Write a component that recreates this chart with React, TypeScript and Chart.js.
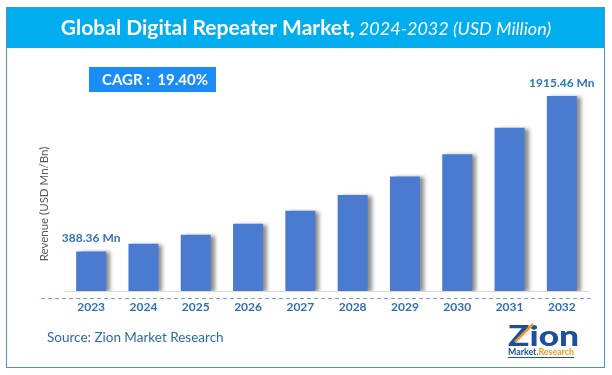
import React, { useEffect, useRef } from "react";
import { Chart, registerables } from "chart.js";

Chart.register(...registerables);

const categories = ["2023", "2024", "2025", "2026", "2027", "2028", "2029", "2030", "2031", "2032"];
const revenue = [388.36, 463.7, 553.6, 661.0, 789.3, 942.4, 1125.3, 1343.6, 1604.2, 1915.46];
const valueLabels = ["388.36 Mn", "", "", "", "", "", "", "", "", "1915.46 Mn"];
const titleMain = "Global Digital Repeater Market,";
const titleSub = " 2024-2032 (USD Million)";
const cagrText = "CAGR :  19.40%";
const yTitle = "Revenue (USD Mn/Bn)";
const sourceText = "Source: Zion Market Research";

const FONT = "Lato, 'Open Sans', sans-serif";

const framePlugin = {
  id: "frame",
  beforeDraw(chart: any) {
    const ctx = chart.ctx;
    ctx.save();
    ctx.fillStyle = "#ffffff";
    ctx.fillRect(0, 0, chart.width, chart.height);
    // title bar
    ctx.fillStyle = "#00aeef";
    ctx.fillRect(6, 7, 599, 41);
    // panel border
    ctx.strokeStyle = "#4f92d4";
    ctx.lineWidth = 1;
    ctx.strokeRect(6.5, 7.5, 598, 360);
    // title text
    ctx.fillStyle = "#ffffff";
    ctx.textBaseline = "alphabetic";
    ctx.font = `bold 21px ${FONT}`;
    const w1 = ctx.measureText(titleMain).width;
    ctx.font = `italic 18px ${FONT}`;
    const w2 = ctx.measureText(titleSub).width;
    const sx = 306 - (w1 + w2) / 2;
    ctx.font = `bold 21px ${FONT}`;
    ctx.fillText(titleMain, sx, 35);
    ctx.font = `italic 18px ${FONT}`;
    ctx.fillText(titleSub, sx + w1, 35);
    // CAGR box
    ctx.fillStyle = "#1a8cf5";
    ctx.fillRect(89, 67, 127, 25);
    ctx.fillStyle = "#ffffff";
    ctx.font = `bold 15px ${FONT}`;
    ctx.textBaseline = "middle";
    ctx.textAlign = "center";
    ctx.fillText(cagrText, 155, 80);
    // y title
    ctx.save();
    ctx.translate(44, 204);
    ctx.rotate(-Math.PI / 2);
    ctx.fillStyle = "#595959";
    ctx.font = `11.5px ${FONT}`;
    ctx.fillText(yTitle, 0, 0);
    ctx.restore();
    // dashed line
    ctx.strokeStyle = "#7f9fd8";
    ctx.setLineDash([4, 3]);
    ctx.beginPath();
    ctx.moveTo(41, 298.5);
    ctx.lineTo(591, 298.5);
    ctx.stroke();
    ctx.setLineDash([]);
    // source
    ctx.textAlign = "left";
    ctx.fillStyle = "#2f6aa8";
    ctx.font = `13.5px ${FONT}`;
    ctx.fillText(sourceText, 47, 338);
    // logo
    ctx.textBaseline = "alphabetic";
    ctx.save();
    ctx.translate(508, 346);
    ctx.scale(1.22, 1);
    ctx.font = `900 29px ${FONT}`;
    ctx.fillStyle = "#1d4f9c";
    ctx.fillText("Zion", 0, 0);
    ctx.restore();
    ctx.strokeStyle = "#f39a1e";
    ctx.lineWidth = 2.5;
    ctx.beginPath();
    ctx.moveTo(515, 342);
    ctx.lineTo(533, 324);
    ctx.stroke();
    ctx.save();
    ctx.translate(508, 355);
    ctx.font = `bold 9px ${FONT}`;
    const mw = ctx.measureText("Market.").width;
    const rw = ctx.measureText("Research").width;
    ctx.scale(66 / (mw + rw), 1);
    ctx.fillStyle = "#1d4f9c";
    ctx.fillText("Market.", 0, 0);
    ctx.fillStyle = "#f39a1e";
    ctx.fillText("Research", mw, 0);
    ctx.strokeStyle = "#1d4f9c";
    ctx.lineWidth = 1;
    ctx.beginPath();
    ctx.moveTo(0, 2.5);
    ctx.lineTo(mw + rw, 2.5);
    ctx.stroke();
    ctx.restore();
    ctx.restore();
  },
};

const shadowPlugin = {
  id: "barShadow",
  beforeDatasetsDraw(chart: any) {
    const ctx = chart.ctx;
    ctx.save();
    ctx.shadowColor = "rgba(0,0,0,0.45)";
    ctx.shadowBlur = 4;
    ctx.shadowOffsetX = 4;
    ctx.shadowOffsetY = 1;
  },
  afterDatasetsDraw(chart: any) {
    chart.ctx.restore();
    const ctx = chart.ctx;
    const meta = chart.getDatasetMeta(0);
    ctx.save();
    ctx.fillStyle = "#2e74b8";
    ctx.font = `bold 12px ${FONT}`;
    ctx.textAlign = "center";
    ctx.textBaseline = "middle";
    meta.data.forEach((bar: any, i: number) => {
      if (valueLabels[i]) ctx.fillText(valueLabels[i], bar.x, bar.y - 13);
    });
    ctx.restore();
  },
};

export default function App() {
  const ref = useRef<HTMLCanvasElement>(null);
  useEffect(() => {
    document.body.style.margin = "0";
    const chart = new Chart(ref.current!, {
      type: "bar",
      data: {
        labels: categories,
        datasets: [
          {
            data: revenue,
            backgroundColor: "#4a7bd1",
            borderWidth: 0,
            barPercentage: 0.574,
            categoryPercentage: 1,
          },
        ],
      },
      options: {
        responsive: false,
        devicePixelRatio: 1,
        animation: false,
        layout: { padding: { left: 65, right: 24, top: 67, bottom: 54 } },
        plugins: { legend: { display: false }, tooltip: { enabled: false } },
        scales: {
          x: {
            grid: { display: false, drawTicks: false },
            border: { display: true, color: "#d9d9d9", width: 1 },
            ticks: {
              color: "#2f6fb5",
              font: { family: FONT, weight: "bold", size: 12 },
              padding: 9,
              maxRotation: 0,
              autoSkip: false,
            },
            afterFit(s: any) {
              s.height = 30;
            },
          },
          y: { display: false, min: 0, max: 2200 },
        },
      },
      plugins: [framePlugin, shadowPlugin],
    });
    return () => chart.destroy();
  }, []);
  return <canvas ref={ref} width={612} height={375} style={{ display: "block" }} />;
}
